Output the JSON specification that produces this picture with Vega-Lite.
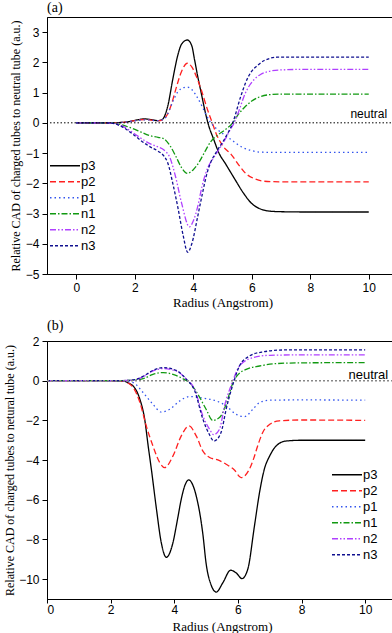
{
"$schema": "https://vega.github.io/schema/vega-lite/v6.json",
"padding": {"left": 3, "top": 0, "right": 3, "bottom": 2},
"spacing": 8,
"config": {
 "font": "Liberation Sans",
 "view": {"stroke": "black", "strokeWidth": 1},
 "axis": {"grid": false, "domainColor": "black", "tickColor": "black", "labelColor": "black", "titleColor": "black", "labelFont": "Liberation Sans", "labelFontSize": 12, "labelOverlap": false, "titleFont": "Liberation Serif", "titleFontSize": 13, "titleFontWeight": "normal", "tickSize": 5, "labelPadding": 3},
 "title": {"font": "Liberation Serif", "fontSize": 14, "fontWeight": "normal", "anchor": "start", "frame": "group", "offset": 2, "color": "black"},
 "legend": {"symbolType": "stroke", "symbolSize": 900, "symbolStrokeWidth": 1.5, "labelFontSize": 13, "labelFont": "Liberation Sans", "rowPadding": 0, "clipHeight": 15.7, "padding": 0, "labelOffset": 0}
},
"datasets": {
 "a": [
  {"s":"p3","x":0,"y":0},{"s":"p3","x":1,"y":0},{"s":"p3","x":1.5,"y":0.01},{"s":"p3","x":1.8,"y":0.04},{"s":"p3","x":2.1,"y":0.1},{"s":"p3","x":2.33,"y":0.13},{"s":"p3","x":2.6,"y":0.1},{"s":"p3","x":2.79,"y":0.07},{"s":"p3","x":2.95,"y":0.12},{"s":"p3","x":3.13,"y":0.56},{"s":"p3","x":3.3,"y":1.44},{"s":"p3","x":3.47,"y":2.23},{"s":"p3","x":3.6,"y":2.6},{"s":"p3","x":3.8,"y":2.74},{"s":"p3","x":3.95,"y":2.55},{"s":"p3","x":4.04,"y":2.11},{"s":"p3","x":4.15,"y":1.55},{"s":"p3","x":4.27,"y":1.0},{"s":"p3","x":4.4,"y":0.4},{"s":"p3","x":4.5,"y":0},{"s":"p3","x":4.7,"y":-0.55},{"s":"p3","x":4.88,"y":-1.0},{"s":"p3","x":5.1,"y":-1.35},{"s":"p3","x":5.4,"y":-1.83},{"s":"p3","x":5.7,"y":-2.3},{"s":"p3","x":6.0,"y":-2.67},{"s":"p3","x":6.3,"y":-2.85},{"s":"p3","x":6.6,"y":-2.92},{"s":"p3","x":7,"y":-2.94},{"s":"p3","x":8,"y":-2.95},{"s":"p3","x":10,"y":-2.95},
  {"s":"p2","x":0,"y":0},{"s":"p2","x":1,"y":0},{"s":"p2","x":1.5,"y":0.01},{"s":"p2","x":1.8,"y":0.04},{"s":"p2","x":2.1,"y":0.09},{"s":"p2","x":2.35,"y":0.11},{"s":"p2","x":2.79,"y":0.07},{"s":"p2","x":2.95,"y":0.1},{"s":"p2","x":3.1,"y":0.25},{"s":"p2","x":3.25,"y":0.6},{"s":"p2","x":3.4,"y":1.1},{"s":"p2","x":3.6,"y":1.7},{"s":"p2","x":3.8,"y":1.97},{"s":"p2","x":3.95,"y":1.85},{"s":"p2","x":4.1,"y":1.55},{"s":"p2","x":4.27,"y":1.1},{"s":"p2","x":4.5,"y":0.4},{"s":"p2","x":4.65,"y":0},{"s":"p2","x":4.78,"y":-0.35},{"s":"p2","x":5.0,"y":-0.75},{"s":"p2","x":5.3,"y":-1.05},{"s":"p2","x":5.6,"y":-1.45},{"s":"p2","x":5.8,"y":-1.68},{"s":"p2","x":6.1,"y":-1.85},{"s":"p2","x":6.4,"y":-1.93},{"s":"p2","x":7,"y":-1.95},{"s":"p2","x":10,"y":-1.95},
  {"s":"p1","x":0,"y":0},{"s":"p1","x":1,"y":0},{"s":"p1","x":1.5,"y":0.01},{"s":"p1","x":1.8,"y":0.04},{"s":"p1","x":2.1,"y":0.08},{"s":"p1","x":2.35,"y":0.1},{"s":"p1","x":2.79,"y":0.07},{"s":"p1","x":3.0,"y":0.12},{"s":"p1","x":3.13,"y":0.3},{"s":"p1","x":3.3,"y":0.7},{"s":"p1","x":3.47,"y":1.02},{"s":"p1","x":3.65,"y":1.16},{"s":"p1","x":3.8,"y":1.18},{"s":"p1","x":3.95,"y":1.1},{"s":"p1","x":4.1,"y":0.9},{"s":"p1","x":4.3,"y":0.55},{"s":"p1","x":4.45,"y":0.25},{"s":"p1","x":4.6,"y":0},{"s":"p1","x":4.8,"y":-0.2},{"s":"p1","x":5.0,"y":-0.35},{"s":"p1","x":5.3,"y":-0.56},{"s":"p1","x":5.7,"y":-0.82},{"s":"p1","x":6.0,"y":-0.92},{"s":"p1","x":6.3,"y":-0.97},{"s":"p1","x":7,"y":-0.98},{"s":"p1","x":10,"y":-0.98},
  {"s":"n1","x":0,"y":0},{"s":"n1","x":1,"y":0},{"s":"n1","x":1.3,"y":-0.01},{"s":"n1","x":1.6,"y":-0.08},{"s":"n1","x":1.9,"y":-0.18},{"s":"n1","x":2.2,"y":-0.3},{"s":"n1","x":2.5,"y":-0.42},{"s":"n1","x":2.8,"y":-0.48},{"s":"n1","x":3.0,"y":-0.53},{"s":"n1","x":3.2,"y":-0.75},{"s":"n1","x":3.4,"y":-1.1},{"s":"n1","x":3.6,"y":-1.48},{"s":"n1","x":3.8,"y":-1.67},{"s":"n1","x":4.0,"y":-1.55},{"s":"n1","x":4.2,"y":-1.3},{"s":"n1","x":4.4,"y":-0.95},{"s":"n1","x":4.6,"y":-0.62},{"s":"n1","x":4.84,"y":-0.4},{"s":"n1","x":5.06,"y":-0.25},{"s":"n1","x":5.35,"y":0},{"s":"n1","x":5.5,"y":0.22},{"s":"n1","x":5.74,"y":0.5},{"s":"n1","x":6.0,"y":0.72},{"s":"n1","x":6.2,"y":0.83},{"s":"n1","x":6.6,"y":0.93},{"s":"n1","x":7,"y":0.95},{"s":"n1","x":10,"y":0.95},
  {"s":"n2","x":0,"y":0},{"s":"n2","x":1,"y":0},{"s":"n2","x":1.3,"y":-0.02},{"s":"n2","x":1.6,"y":-0.12},{"s":"n2","x":1.9,"y":-0.3},{"s":"n2","x":2.2,"y":-0.5},{"s":"n2","x":2.5,"y":-0.68},{"s":"n2","x":2.8,"y":-0.8},{"s":"n2","x":3.0,"y":-0.9},{"s":"n2","x":3.2,"y":-1.15},{"s":"n2","x":3.4,"y":-1.8},{"s":"n2","x":3.6,"y":-2.65},{"s":"n2","x":3.87,"y":-3.44},{"s":"n2","x":4.0,"y":-3.25},{"s":"n2","x":4.15,"y":-2.78},{"s":"n2","x":4.3,"y":-2.1},{"s":"n2","x":4.49,"y":-1.5},{"s":"n2","x":4.7,"y":-1.15},{"s":"n2","x":4.9,"y":-0.85},{"s":"n2","x":5.06,"y":-0.6},{"s":"n2","x":5.25,"y":-0.25},{"s":"n2","x":5.4,"y":0},{"s":"n2","x":5.6,"y":0.5},{"s":"n2","x":5.74,"y":0.89},{"s":"n2","x":5.9,"y":1.2},{"s":"n2","x":6.09,"y":1.44},{"s":"n2","x":6.3,"y":1.6},{"s":"n2","x":6.54,"y":1.69},{"s":"n2","x":7,"y":1.75},{"s":"n2","x":8,"y":1.77},{"s":"n2","x":10,"y":1.77},
  {"s":"n3","x":0,"y":0},{"s":"n3","x":1,"y":0},{"s":"n3","x":1.3,"y":-0.03},{"s":"n3","x":1.6,"y":-0.15},{"s":"n3","x":1.9,"y":-0.35},{"s":"n3","x":2.2,"y":-0.58},{"s":"n3","x":2.5,"y":-0.78},{"s":"n3","x":2.8,"y":-0.94},{"s":"n3","x":3.0,"y":-1.1},{"s":"n3","x":3.13,"y":-1.33},{"s":"n3","x":3.3,"y":-2.0},{"s":"n3","x":3.47,"y":-2.78},{"s":"n3","x":3.65,"y":-3.7},{"s":"n3","x":3.81,"y":-4.28},{"s":"n3","x":3.95,"y":-4.0},{"s":"n3","x":4.15,"y":-3.11},{"s":"n3","x":4.3,"y":-2.4},{"s":"n3","x":4.49,"y":-1.6},{"s":"n3","x":4.6,"y":-1.3},{"s":"n3","x":4.8,"y":-0.95},{"s":"n3","x":5.06,"y":-0.55},{"s":"n3","x":5.35,"y":0},{"s":"n3","x":5.63,"y":0.89},{"s":"n3","x":5.8,"y":1.35},{"s":"n3","x":5.97,"y":1.67},{"s":"n3","x":6.2,"y":1.9},{"s":"n3","x":6.43,"y":2.06},{"s":"n3","x":6.88,"y":2.17},{"s":"n3","x":10,"y":2.17}
 ],
 "b": [
  {"s":"p3","x":0,"y":0},{"s":"p3","x":1,"y":0},{"s":"p3","x":2,"y":0},{"s":"p3","x":2.39,"y":-0.02},{"s":"p3","x":2.6,"y":-0.15},{"s":"p3","x":2.71,"y":-0.27},{"s":"p3","x":2.92,"y":-0.94},{"s":"p3","x":3.07,"y":-1.94},{"s":"p3","x":3.18,"y":-3.29},{"s":"p3","x":3.28,"y":-4.46},{"s":"p3","x":3.44,"y":-6.47},{"s":"p3","x":3.59,"y":-8.15},{"s":"p3","x":3.75,"y":-8.9},{"s":"p3","x":3.96,"y":-8.15},{"s":"p3","x":4.1,"y":-7.0},{"s":"p3","x":4.22,"y":-5.97},{"s":"p3","x":4.34,"y":-5.25},{"s":"p3","x":4.46,"y":-5.0},{"s":"p3","x":4.58,"y":-5.25},{"s":"p3","x":4.69,"y":-5.81},{"s":"p3","x":4.9,"y":-7.75},{"s":"p3","x":5.0,"y":-9.2},{"s":"p3","x":5.16,"y":-10.3},{"s":"p3","x":5.32,"y":-10.65},{"s":"p3","x":5.53,"y":-10.17},{"s":"p3","x":5.77,"y":-9.55},{"s":"p3","x":5.94,"y":-9.68},{"s":"p3","x":6.13,"y":-9.97},{"s":"p3","x":6.31,"y":-9.5},{"s":"p3","x":6.52,"y":-7.32},{"s":"p3","x":6.68,"y":-5.63},{"s":"p3","x":6.83,"y":-4.46},{"s":"p3","x":7.0,"y":-3.79},{"s":"p3","x":7.2,"y":-3.29},{"s":"p3","x":7.51,"y":-3.04},{"s":"p3","x":8.03,"y":-3.0},{"s":"p3","x":10,"y":-3.0},
  {"s":"p2","x":0,"y":0},{"s":"p2","x":1,"y":0},{"s":"p2","x":2,"y":0},{"s":"p2","x":2.39,"y":-0.02},{"s":"p2","x":2.71,"y":-0.35},{"s":"p2","x":2.92,"y":-1.1},{"s":"p2","x":3.12,"y":-2.28},{"s":"p2","x":3.33,"y":-3.29},{"s":"p2","x":3.54,"y":-4.12},{"s":"p2","x":3.7,"y":-4.38},{"s":"p2","x":3.96,"y":-3.79},{"s":"p2","x":4.22,"y":-2.78},{"s":"p2","x":4.46,"y":-2.28},{"s":"p2","x":4.69,"y":-2.78},{"s":"p2","x":4.9,"y":-3.55},{"s":"p2","x":5.11,"y":-3.87},{"s":"p2","x":5.37,"y":-3.99},{"s":"p2","x":5.63,"y":-4.21},{"s":"p2","x":5.89,"y":-4.5},{"s":"p2","x":6.1,"y":-4.88},{"s":"p2","x":6.36,"y":-4.46},{"s":"p2","x":6.5,"y":-3.9},{"s":"p2","x":6.62,"y":-3.29},{"s":"p2","x":6.78,"y":-2.61},{"s":"p2","x":7.0,"y":-2.2},{"s":"p2","x":7.3,"y":-2.02},{"s":"p2","x":8.03,"y":-1.98},{"s":"p2","x":10,"y":-2.0},
  {"s":"p1","x":0,"y":0},{"s":"p1","x":2,"y":0},{"s":"p1","x":2.4,"y":-0.02},{"s":"p1","x":2.71,"y":-0.1},{"s":"p1","x":3.02,"y":-0.6},{"s":"p1","x":3.33,"y":-1.19},{"s":"p1","x":3.59,"y":-1.58},{"s":"p1","x":3.86,"y":-1.44},{"s":"p1","x":4.17,"y":-1.02},{"s":"p1","x":4.48,"y":-0.8},{"s":"p1","x":4.9,"y":-0.88},{"s":"p1","x":5.32,"y":-1.02},{"s":"p1","x":5.63,"y":-1.27},{"s":"p1","x":5.94,"y":-1.69},{"s":"p1","x":6.21,"y":-1.81},{"s":"p1","x":6.47,"y":-1.44},{"s":"p1","x":6.68,"y":-1.1},{"s":"p1","x":7.0,"y":-0.98},{"s":"p1","x":8,"y":-0.97},{"s":"p1","x":10,"y":-0.98},
  {"s":"n1","x":0,"y":0},{"s":"n1","x":2,"y":0},{"s":"n1","x":2.5,"y":0.01},{"s":"n1","x":2.8,"y":0.04},{"s":"n1","x":3.02,"y":0.1},{"s":"n1","x":3.33,"y":0.32},{"s":"n1","x":3.65,"y":0.41},{"s":"n1","x":3.96,"y":0.32},{"s":"n1","x":4.27,"y":0.1},{"s":"n1","x":4.48,"y":-0.1},{"s":"n1","x":4.74,"y":-0.68},{"s":"n1","x":5.0,"y":-1.44},{"s":"n1","x":5.21,"y":-2.0},{"s":"n1","x":5.42,"y":-1.86},{"s":"n1","x":5.63,"y":-1.19},{"s":"n1","x":5.82,"y":-0.2},{"s":"n1","x":5.97,"y":0.24},{"s":"n1","x":6.26,"y":0.57},{"s":"n1","x":6.68,"y":0.74},{"s":"n1","x":7.2,"y":0.86},{"s":"n1","x":8.03,"y":0.9},{"s":"n1","x":10,"y":0.91},
  {"s":"n2","x":0,"y":0},{"s":"n2","x":2,"y":0},{"s":"n2","x":2.5,"y":0.01},{"s":"n2","x":2.8,"y":0.06},{"s":"n2","x":3.02,"y":0.2},{"s":"n2","x":3.33,"y":0.49},{"s":"n2","x":3.65,"y":0.61},{"s":"n2","x":4.06,"y":0.49},{"s":"n2","x":4.38,"y":0.07},{"s":"n2","x":4.64,"y":-0.43},{"s":"n2","x":4.9,"y":-1.78},{"s":"n2","x":5.11,"y":-2.45},{"s":"n2","x":5.24,"y":-2.72},{"s":"n2","x":5.42,"y":-2.45},{"s":"n2","x":5.58,"y":-1.27},{"s":"n2","x":5.82,"y":-0.1},{"s":"n2","x":6.05,"y":0.74},{"s":"n2","x":6.47,"y":1.16},{"s":"n2","x":7.0,"y":1.28},{"s":"n2","x":8,"y":1.3},{"s":"n2","x":10,"y":1.3},
  {"s":"n3","x":0,"y":0},{"s":"n3","x":2,"y":0},{"s":"n3","x":2.5,"y":0.01},{"s":"n3","x":2.8,"y":0.07},{"s":"n3","x":3.02,"y":0.22},{"s":"n3","x":3.33,"y":0.52},{"s":"n3","x":3.65,"y":0.66},{"s":"n3","x":4.06,"y":0.52},{"s":"n3","x":4.38,"y":0.07},{"s":"n3","x":4.64,"y":-0.5},{"s":"n3","x":4.9,"y":-1.94},{"s":"n3","x":5.1,"y":-2.7},{"s":"n3","x":5.25,"y":-3.04},{"s":"n3","x":5.47,"y":-2.61},{"s":"n3","x":5.63,"y":-1.44},{"s":"n3","x":5.86,"y":-0.1},{"s":"n3","x":6.05,"y":0.74},{"s":"n3","x":6.36,"y":1.24},{"s":"n3","x":6.78,"y":1.45},{"s":"n3","x":7.51,"y":1.55},{"s":"n3","x":10,"y":1.55}
 ]
},
"resolve": {"legend": {"color": "independent", "strokeDash": "independent"}, "scale": {"color": "independent", "strokeDash": "independent"}},
"vconcat": [
 {
  "title": {"text": "(a)"},
  "width": 351, "height": 257,
  "layer": [
   {
    "data": {"name": "a"},
    "mark": {"type": "line", "interpolate": "monotone", "strokeWidth": 1.3},
    "encoding": {
     "x": {"field": "x", "type": "quantitative", "scale": {"domain": [-1, 11], "nice": false, "zero": false}, "axis": {"values": [0, 2, 4, 6, 8, 10], "labelOverlap": false, "title": "Radius (Angstrom)", "titlePadding": 3}},
     "y": {"field": "y", "type": "quantitative", "scale": {"domain": [-5, 3.5], "nice": false}, "axis": {"values": [-5, -4, -3, -2, -1, 0, 1, 2, 3], "labelOverlap": false, "labelSeparation": 0, "title": "Relative CAD of charged tubes to neutral tube (a.u.)", "titlePadding": 3, "titleFontSize": 12}},
     "color": {"field": "s", "type": "nominal", "sort": ["p3", "p2", "p1", "n1", "n2", "n3"], "scale": {"domain": ["p3", "p2", "p1", "n1", "n2", "n3"], "range": ["#000000", "#ff2020", "#3355ee", "#119911", "#b040ff", "#101090"]},
      "legend": {"title": null, "orient": "none", "legendX": 2, "legendY": 141}},
     "strokeDash": {"field": "s", "type": "nominal", "sort": ["p3", "p2", "p1", "n1", "n2", "n3"], "scale": {"domain": ["p3", "p2", "p1", "n1", "n2", "n3"], "range": [[1, 0], [6, 3], [1.5, 3], [6, 2, 1.5, 2], [6, 2, 1.5, 2, 1.5, 2], [3, 2]]}, "legend": {"title": null, "orient": "none", "legendX": 2, "legendY": 141}}
    }
   },
   {
    "data": {"values": [{"v": 0}]},
    "mark": {"type": "rule", "color": "black", "strokeDash": [1.5, 2], "strokeWidth": 1},
    "encoding": {"y": {"field": "v", "type": "quantitative", "axis": {"values": [-5, -4, -3, -2, -1, 0, 1, 2, 3], "labelOverlap": false, "labelSeparation": 0, "title": "Relative CAD of charged tubes to neutral tube (a.u.)", "titlePadding": 3, "titleFontSize": 12}}}
   },
   {
    "data": {"values": [{"x": 10, "y": 0, "t": "neutral"}]},
    "mark": {"type": "text", "baseline": "bottom", "dy": -2, "fontSize": 12, "font": "Liberation Sans", "color": "black"},
    "encoding": {
     "x": {"field": "x", "type": "quantitative", "axis": {"values": [0, 2, 4, 6, 8, 10], "labelOverlap": false, "title": "Radius (Angstrom)", "titlePadding": 3}},
     "y": {"field": "y", "type": "quantitative", "axis": {"values": [-5, -4, -3, -2, -1, 0, 1, 2, 3], "labelOverlap": false, "labelSeparation": 0, "title": "Relative CAD of charged tubes to neutral tube (a.u.)", "titlePadding": 3, "titleFontSize": 12}},
     "text": {"field": "t"}}
   }
  ]
 },
 {
  "title": {"text": "(b)"},
  "width": 350, "height": 258,
  "layer": [
   {
    "data": {"name": "b"},
    "mark": {"type": "line", "interpolate": "monotone", "strokeWidth": 1.3},
    "encoding": {
     "x": {"field": "x", "type": "quantitative", "scale": {"domain": [0, 11], "nice": false}, "axis": {"values": [0, 2, 4, 6, 8, 10], "labelOverlap": false, "title": "Radius (Angstrom)", "titlePadding": 5, "labelPadding": 1, "tickSize": 4}},
     "y": {"field": "y", "type": "quantitative", "scale": {"domain": [-11, 2], "nice": false}, "axis": {"values": [-10, -8, -6, -4, -2, 0, 2], "labelOverlap": false, "title": "Relative CAD of charged tubes to netural tube (a.u.)", "titlePadding": 2, "titleFontSize": 12}},
     "color": {"field": "s", "type": "nominal", "sort": ["p3", "p2", "p1", "n1", "n2", "n3"], "scale": {"domain": ["p3", "p2", "p1", "n1", "n2", "n3"], "range": ["#000000", "#ff2020", "#3355ee", "#119911", "#b040ff", "#101090"]},
      "legend": {"title": null, "orient": "none", "legendX": 284, "legendY": 126}},
     "strokeDash": {"field": "s", "type": "nominal", "sort": ["p3", "p2", "p1", "n1", "n2", "n3"], "scale": {"domain": ["p3", "p2", "p1", "n1", "n2", "n3"], "range": [[1, 0], [6, 3], [1.5, 3], [6, 2, 1.5, 2], [6, 2, 1.5, 2, 1.5, 2], [3, 2]]}, "legend": {"title": null, "orient": "none", "legendX": 284, "legendY": 126}}
    }
   },
   {
    "data": {"values": [{"v": 0}]},
    "mark": {"type": "rule", "color": "#888888", "strokeDash": [2, 2], "strokeWidth": 1.5},
    "encoding": {"y": {"field": "v", "type": "quantitative"}}
   },
   {
    "data": {"values": [{"x": 10.1, "y": 0, "t": "neutral"}]},
    "mark": {"type": "text", "baseline": "bottom", "dy": 1, "fontSize": 13, "font": "Liberation Sans", "color": "black"},
    "encoding": {"x": {"field": "x", "type": "quantitative"}, "y": {"field": "y", "type": "quantitative"}, "text": {"field": "t"}}
   }
  ]
 }
]
}
